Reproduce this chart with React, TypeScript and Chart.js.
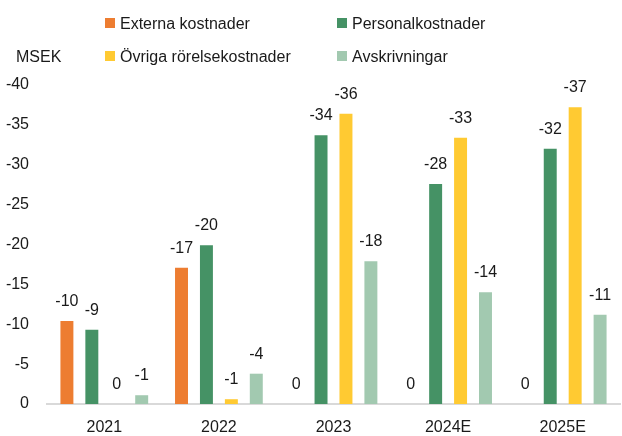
import React, { useEffect, useRef } from "react";
import { Chart, registerables } from "chart.js";

Chart.register(...registerables);

const categories = ["2021", "2022", "2023", "2024E", "2025E"];
const externaKostnader = [-10.4, -17.1, 0, 0, 0];
const personalKostnader = [-9.3, -19.9, -33.7, -27.6, -32.0];
const ovrigaRorelsekostnader = [0, -0.6, -36.4, -33.4, -37.2];
const avskrivningar = [-1.1, -3.8, -17.9, -14.0, -11.2];
const seriesNames = ["Externa kostnader", "Personalkostnader", "Övriga rörelsekostnader", "Avskrivningar"];
const unitLabel = "MSEK";

const FONT = "'Liberation Sans Narrow', 'Arial Narrow', 'Liberation Sans', sans-serif";
const COLORS = ["#ED7D31", "#459265", "#FFCA32", "#A2C9B0"];

const labelPlugin = {
  id: "valueLabels",
  afterDatasetsDraw(chart: any) {
    const ctx = chart.ctx;
    ctx.save();
    ctx.font = `16px ${FONT}`;
    ctx.fillStyle = "#1a1a1a";
    ctx.textAlign = "center";
    ctx.textBaseline = "alphabetic";
    chart.data.datasets.forEach((ds: any, i: number) => {
      const meta = chart.getDatasetMeta(i);
      meta.data.forEach((bar: any, j: number) => {
        const v = Math.round(ds.data[j]);
        const txt = v === 0 ? "0" : String(v);
        ctx.fillText(txt, bar.x, bar.y - 15);
      });
    });
    ctx.restore();
  },
};

const legendPlugin = {
  id: "customLegend",
  afterDraw(chart: any) {
    const ctx = chart.ctx;
    ctx.save();
    ctx.font = `16px ${FONT}`;
    ctx.fillStyle = "#1a1a1a";
    ctx.textAlign = "left";
    ctx.textBaseline = "alphabetic";
    const pos = [
      [105, 29],
      [337, 29],
      [105, 62],
      [337, 62],
    ];
    chart.data.datasets.forEach((ds: any, i: number) => {
      const [x, y] = pos[i];
      ctx.fillStyle = ds.backgroundColor;
      ctx.fillRect(x, y - 11, 10, 10);
      ctx.fillStyle = "#1a1a1a";
      ctx.fillText(ds.label, x + 15, y);
    });
    ctx.fillText(unitLabel, 16, 62);
    ctx.restore();
  },
};

export default function App() {
  const ref = useRef<HTMLCanvasElement | null>(null);
  useEffect(() => {
    if (!ref.current) return;
    const seriesData = [externaKostnader, personalKostnader, ovrigaRorelsekostnader, avskrivningar];
    const chart = new Chart(ref.current, {
      type: "bar",
      data: {
        labels: categories,
        datasets: seriesData.map((d, i) => ({
          label: seriesNames[i],
          data: d,
          backgroundColor: COLORS[i],
          categoryPercentage: 0.87,
          barPercentage: 0.52,
        })),
      },
      options: {
        animation: false,
        responsive: true,
        maintainAspectRatio: false,
        layout: { padding: { top: 85, right: 2, left: 0, bottom: 0 } },
        plugins: {
          legend: { display: false },
          tooltip: { enabled: false },
        },
        scales: {
          x: {
            grid: { display: false, drawTicks: false },
            border: { display: true, color: "#d9d9d9", width: 2 },
            ticks: { color: "#1a1a1a", font: { family: FONT, size: 16 }, padding: 14 },
            afterFit(scale: any) {
              scale.height = 32;
            },
          },
          y: {
            min: -40,
            max: 0,
            reverse: true,
            grid: { display: false, drawTicks: false },
            border: { display: false },
            ticks: {
              stepSize: 5,
              color: "#1a1a1a",
              font: { family: FONT, size: 16 },
              padding: 18,
              callback: (v: any) => (Number(v) === 0 ? "0" : String(v)),
            },
            afterFit(scale: any) {
              scale.width = 47;
            },
          },
        },
      },
      plugins: [labelPlugin, legendPlugin],
    });
    return () => chart.destroy();
  }, []);
  return (
    <div style={{ position: "fixed", left: 0, top: 0, width: 622, height: 436, background: "#fff" }}>
      <canvas ref={ref} />
    </div>
  );
}
